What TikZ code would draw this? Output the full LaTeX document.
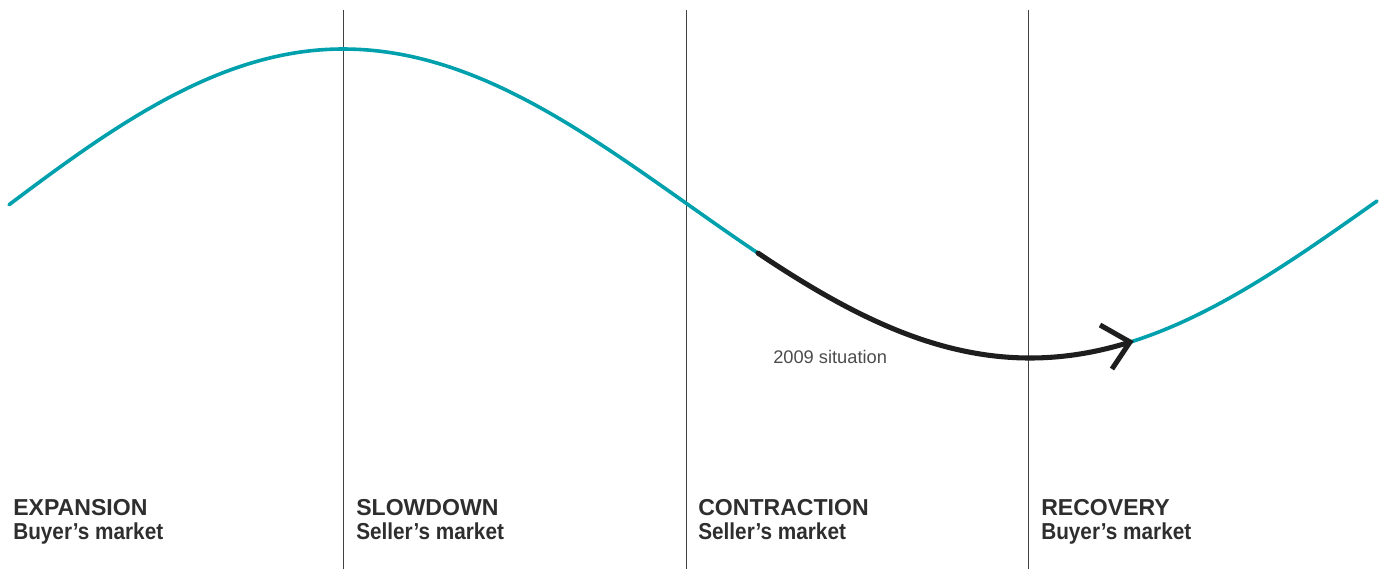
\documentclass[tikz,border=0pt]{standalone}
\usepackage{fontspec}
\setmainfont{Liberation Sans}
\newfontfamily\narrowsans[FakeStretch=0.9]{Liberation Sans}
\newcommand{\subline}[1]{{\narrowsans\bfseries #1}}
\begin{document}
\begin{tikzpicture}[x=0.75pt,y=-0.75pt,
  divider/.style={draw=black!75, line width=0.7pt},
  cycle/.style={draw={rgb,255:red,0;green,160;blue,172}, line width=2.7pt, line cap=round},
  trend/.style={draw={rgb,255:red,30;green,30;blue,30}, line width=3.8pt},
  phase/.style={anchor=base west, align=left, text=black!82, inner sep=0pt,
    font=\fontsize{17.3}{18}\selectfont\bfseries},
  note/.style={anchor=base west, inner sep=0pt, text=black!70,
    font=\fontsize{13.7}{15}\selectfont}]
\useasboundingbox (0,0) rectangle (1388,569);
% dividers
\coordinate (d1t) at (343,10); \coordinate (d1b) at (343,569);
\coordinate (d2t) at (686,10); \coordinate (d2b) at (686,569);
\coordinate (d3t) at (1028,10); \coordinate (d3b) at (1028,569);
\draw[divider] (d1t) -- (d1b);
\draw[divider] (d2t) -- (d2b);
\draw[divider] (d3t) -- (d3b);
% cycle curve
\draw[cycle] plot[domain=9:1377, samples=200, smooth] (\x, {203.5 - 154.5*cos(0.262009*(\x-343)) + 8*(\x<343)*((343-\x)/334)^2});
% 2009 trend arrow
\draw[trend, line cap=round] plot[domain=758:1130, samples=80, smooth] (\x, {203.5 - 154.5*cos(0.262009*(\x-343))});
\coordinate (tip) at (1130,342);
\coordinate (barbA) at (1100,325);
\coordinate (barbB) at (1112,369);
\draw[trend, line join=miter] (barbA) -- (tip) -- (barbB);
% labels
\node[note] (sit) at (773,363) {2009 situation};
\node[phase] (exp) at (13,539) {EXPANSION\\\subline{Buyer’s market}};
\node[phase] (slo) at (356,539) {SLOWDOWN\\\subline{Seller’s market}};
\node[phase] (con) at (698,539) {CONTRACTION\\\subline{Seller’s market}};
\node[phase] (rec) at (1041,539) {RECOVERY\\\subline{Buyer’s market}};
\end{tikzpicture}
\end{document}
